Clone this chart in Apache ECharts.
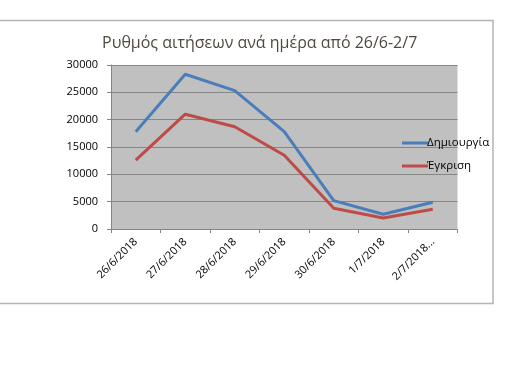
<!DOCTYPE html>
<html><head><meta charset="utf-8">
<script src="https://cdn.jsdelivr.net/npm/echarts@6/dist/echarts.min.js"></script>
<style>html,body{margin:0;padding:0;background:#fff}#c{width:530px;height:373px}</style>
</head><body><div id="c"></div>
<script>
const categories = ['26/6/2018','27/6/2018','28/6/2018','29/6/2018','30/6/2018','1/7/2018','2/7/2018...'];
const creation = [17800, 28300, 25300, 17800, 5200, 2700, 4900];
const approval = [12600, 21000, 18700, 13500, 3800, 2000, 3600];
const seriesNames = ['Δημιουργία', 'Έγκριση'];
const titleText = 'Ρυθμός αιτήσεων ανά ημέρα από 26/6-2/7';
const yTicks = [0, 5000, 10000, 15000, 20000, 25000, 30000];

const font = '"Open Sans", "Noto Sans", sans-serif';
const chart = echarts.init(document.getElementById('c'));
chart.setOption({
  animation: false,
  backgroundColor: '#fff',
  title: {
    text: titleText, left: 97, top: 30,
    textStyle: {fontFamily: font, fontSize: 16, fontWeight: 'normal', color: '#4f4a3f'}
  },
  graphic: [{
    type: 'rect', silent: true,
    shape: {x: -5, y: 20.5, width: 498, height: 283},
    style: {fill: 'none', stroke: '#b4b4b4', lineWidth: 1.5}
  }],
  legend: {
    orient: 'vertical', left: 397, top: 132, itemGap: 11,
    icon: 'rect', itemWidth: 26, itemHeight: 3,
    textStyle: {fontFamily: font, fontSize: 11.5, color: '#000', padding: [0,0,0,-6]},
    data: seriesNames
  },
  grid: {left: 111, top: 65, width: 346.5, height: 164, show: true, backgroundColor: '#c0c0c0', borderWidth: 0},
  xAxis: {
    type: 'category', data: categories, boundaryGap: true,
    axisLine: {lineStyle: {color: '#868686'}},
    axisTick: {show: true, length: 4, lineStyle: {color: '#868686'}},
    axisLabel: {rotate: 45, fontFamily: font, fontSize: 11, color: '#000', margin: 11, interval: 0}
  },
  yAxis: {
    type: 'value', min: yTicks[0], max: yTicks[yTicks.length-1], interval: 5000,
    axisLine: {show: true, lineStyle: {color: '#868686'}},
    axisTick: {show: true, length: 4, lineStyle: {color: '#868686'}},
    splitLine: {lineStyle: {color: '#868686'}},
    axisLabel: {fontFamily: font, fontSize: 11, color: '#000', margin: 13, formatter: v => String(v)}
  },
  series: [
    {name: seriesNames[0], type: 'line', data: creation, symbol: 'none', lineStyle: {width: 3, color: '#4a7ebb'}, itemStyle: {color: '#4a7ebb'}},
    {name: seriesNames[1], type: 'line', data: approval, symbol: 'none', lineStyle: {width: 3, color: '#be4b48'}, itemStyle: {color: '#be4b48'}}
  ]
});
</script></body></html>
